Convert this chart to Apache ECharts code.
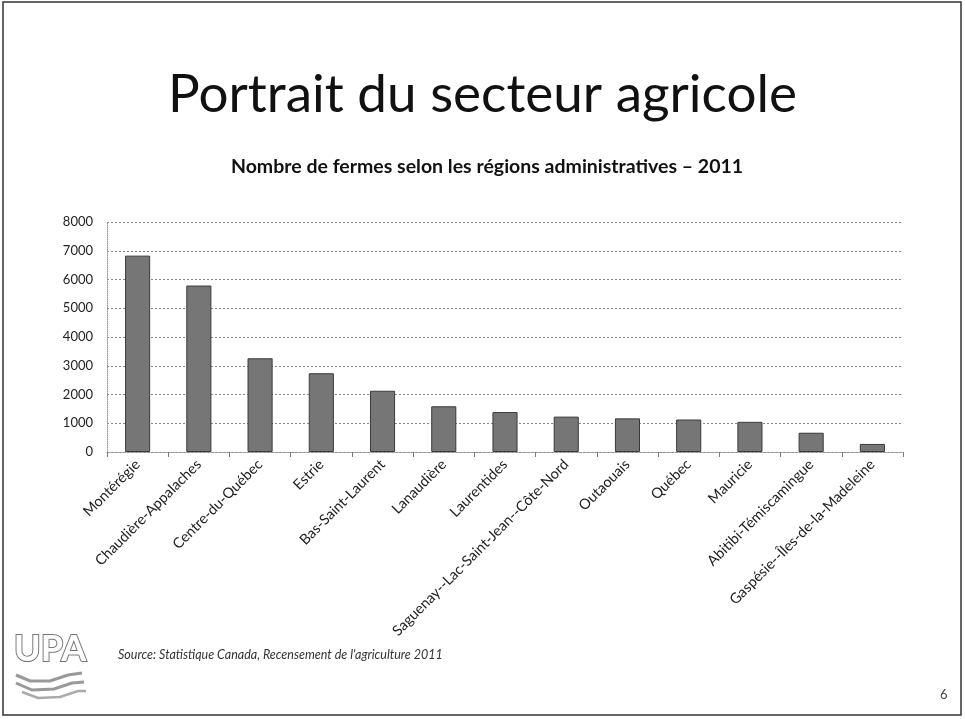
<!DOCTYPE html>
<html>
<head>
<meta charset="utf-8">
<script src="https://cdn.jsdelivr.net/npm/echarts@6/dist/echarts.min.js"></script>
<style>
	html, body { margin: 0; padding: 0; background: #fff; }
	#main { width: 965px; height: 719px; }
</style>
</head>
<body>
<div id="main"></div>
<script>
// régions administratives
var regions = ['Montérégie', 'Chaudière-Appalaches', 'Centre-du-Québec', 'Estrie', 'Bas-Saint-Laurent',
	'Lanaudière', 'Laurentides', 'Saguenay--Lac-Saint-Jean--Côte-Nord', 'Outaouais', 'Québec',
	'Mauricie', 'Abitibi-Témiscamingue', 'Gaspésie--Îles-de-la-Madeleine'];
// nombre de fermes
var fermes = [6830, 5790, 3260, 2740, 2130, 1590, 1390, 1230, 1170, 1130, 1050, 670, 280];
var yTicks = [0, 1000, 2000, 3000, 4000, 5000, 6000, 7000, 8000];

var font = 'Lato, "Open Sans", sans-serif';
var myChart = echarts.init(document.getElementById('main'));
var option = {
	backgroundColor: '#fff',
	animation: false,
	title: [{
		text: 'Portrait du secteur agricole',
		left: 'center',
		top: 63,
		textStyle: { fontFamily: font, fontSize: 53, fontWeight: 'normal', color: '#111' }
	}, {
		text: 'Nombre de fermes selon les régions administratives – 2011',
		left: 482,
		textAlign: 'center',
		top: 152,
		textStyle: { fontFamily: font, fontSize: 19.5, fontWeight: 'bold', color: '#111' }
	}],
	grid: {
		left: 107,
		right: 62,
		top: 222,
		height: 230
	},
	xAxis: {
		type: 'category',
		data: regions,
		axisLine: { lineStyle: { color: '#999', type: 'dotted' } },
		axisTick: { show: true, lineStyle: { color: '#777' } },
		axisLabel: {
			rotate: 45,
			interval: 0,
			fontFamily: font,
			fontSize: 14.5,
			color: '#222',
			margin: 10
		}
	},
	yAxis: {
		type: 'value',
		min: 0,
		max: 8000,
		interval: 1000,
		axisLine: { show: true, lineStyle: { color: '#999', type: 'dotted' } },
		axisTick: { show: false },
		splitLine: { lineStyle: { color: '#888', type: [2, 2], width: 1 } },
		axisLabel: {
			fontFamily: font,
			fontSize: 13,
			color: '#222',
			margin: 14,
			formatter: function (v) { return yTicks.indexOf(v) >= 0 ? String(v) : ''; }
		}
	},
	series: [{
		type: 'bar',
		data: fermes,
		barWidth: '41%',
		itemStyle: {
			color: '#767676',
			borderColor: '#3a3a3a',
			borderWidth: 1
		}
	}],
	graphic: [
		// cadre de la diapositive
		{ type: 'rect', shape: { x: 3, y: 2, width: 958, height: 713 }, style: { fill: null, stroke: '#333', lineWidth: 1.5 } },
		{ type: 'text', left: 118, top: 648, style: { text: 'Source: Statistique Canada, Recensement de l\'agriculture 2011', font: 'italic 12.5px ' + font, fill: '#333' } },
		{ type: 'text', left: 940, top: 688, style: { text: '6', font: '13px ' + font, fill: '#444' } },
		// logo UPA
		{ type: 'text', left: 13, top: 630, style: { text: 'UPA', font: 'bold 36px ' + font, fill: '#fff', stroke: '#777', lineWidth: 2 } },
		{ type: 'polyline', shape: { points: [[16, 675], [30, 681], [50, 681], [68, 675], [82, 673]] }, style: { stroke: '#999', lineWidth: 3, fill: null } },
		{ type: 'polyline', shape: { points: [[16, 683], [32, 690], [54, 689], [72, 683], [84, 682]] }, style: { stroke: '#999', lineWidth: 3, fill: null } },
		{ type: 'polyline', shape: { points: [[22, 692], [38, 698], [60, 697], [78, 691], [86, 691]] }, style: { stroke: '#aaa', lineWidth: 2.5, fill: null } }
	]
};
myChart.setOption(option);
</script>
</body>
</html>
